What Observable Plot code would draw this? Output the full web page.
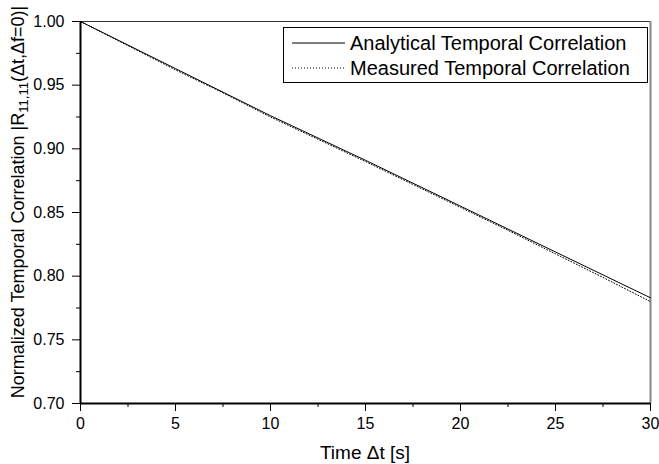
<!DOCTYPE html>
<html>
<head>
<meta charset="utf-8">
<script src="https://cdn.jsdelivr.net/npm/d3@7"></script>
<script src="https://cdn.jsdelivr.net/npm/@observablehq/plot@0.6"></script>
<style>
  html, body { margin: 0; padding: 0; background: #fff; }
  svg { font-family: "Liberation Sans", Arial, sans-serif; }
</style>
</head>
<body>
<div id="chart"></div>
<script>
// Data
const timeS = [0, 2.5, 5, 7.5, 10, 12.5, 15, 17.5, 20, 22.5, 25, 27.5, 30];
const analytical = [1.000, 0.9815, 0.963, 0.9445, 0.926, 0.9085, 0.891, 0.873, 0.855, 0.837, 0.819, 0.801, 0.783];
const measured   = [1.000, 0.981, 0.962, 0.944, 0.925, 0.9075, 0.890, 0.872, 0.854, 0.836, 0.8175, 0.799, 0.780];
const xMajor = [0, 5, 10, 15, 20, 25, 30];
const xMinor = [2.5, 7.5, 12.5, 17.5, 22.5, 27.5];
const yMajor = [0.70, 0.75, 0.80, 0.85, 0.90, 0.95, 1.00];
const yMinor = [0.725, 0.775, 0.825, 0.875, 0.925, 0.975];
const xDomain = [0, 30];
const yDomain = [0.70, 1.00];
const seriesNames = ["Analytical Temporal Correlation", "Measured Temporal Correlation"];

const anaData = timeS.map((t, i) => ({t, v: analytical[i]}));
const meaData = timeS.map((t, i) => ({t, v: measured[i]}));

const W = 659, H = 464;
const chart = Plot.plot({
  width: W, height: H,
  marginLeft: 80, marginRight: 9, marginTop: 21, marginBottom: 61,
  style: {fontFamily: '"Liberation Sans", Arial, sans-serif', fontSize: "16px", color: "#000", background: "#fff"},
  x: {domain: xDomain},
  y: {domain: yDomain},
  marks: [
    Plot.axisX({ticks: xMajor, tickSize: 8, tickPadding: 6, tickFormat: d => String(d), label: null, fontSize: 16}),
    Plot.axisX({ticks: xMinor, tickSize: 4, tickFormat: () => "", label: null}),
    Plot.axisY({ticks: yMajor, tickSize: 8, tickPadding: 8, tickFormat: d3.format(".2f"), label: null, fontSize: 16}),
    Plot.axisY({ticks: yMinor, tickSize: 4, tickFormat: () => "", label: null}),
    Plot.ruleY([yDomain[1]], {stroke: "#333", strokeWidth: 1}),
    Plot.ruleX([xDomain[1]], {stroke: "#888", strokeWidth: 2}),
    Plot.line(meaData, {x: "t", y: "v", stroke: "#000", strokeWidth: 1, strokeDasharray: "1,2"}),
    Plot.line(anaData, {x: "t", y: "v", stroke: "#000", strokeWidth: 1}),
    Plot.ruleY([yDomain[0]], {stroke: "#000", strokeWidth: 2}),
    Plot.ruleX([xDomain[0]], {stroke: "#000", strokeWidth: 2})
  ]
});
document.getElementById("chart").appendChild(chart);

const svg = d3.select(chart);

// X title
svg.append("text")
  .attr("x", 365).attr("y", 459)
  .attr("text-anchor", "middle")
  .attr("font-size", 19)
  .attr("fill", "#000")
  .text("Time \u0394t [s]");

// Y title with subscript
const yt = svg.append("text")
  .attr("transform", "translate(24,202) rotate(-90)")
  .attr("text-anchor", "middle")
  .attr("font-size", 18)
  .attr("fill", "#000");
yt.append("tspan").text("Normalized Temporal Correlation |R");
yt.append("tspan").attr("font-size", 13).attr("dy", 4).text("11,11");
yt.append("tspan").attr("dy", -4).text("(\u0394t,\u0394f=0)|");

// Legend
const lg = svg.append("g").attr("text-anchor", "start");
lg.append("rect").attr("x", 283.5).attr("y", 27.5).attr("width", 364).attr("height", 55)
  .attr("fill", "#fff").attr("stroke", "#000").attr("stroke-width", 1);
const rows = [{name: seriesNames[0], dash: null, y: 43}, {name: seriesNames[1], dash: "1,2", y: 68}];
rows.forEach(r => {
  const l = lg.append("line").attr("x1", 292).attr("x2", 345).attr("y1", r.y).attr("y2", r.y)
    .attr("stroke", "#000").attr("stroke-width", 1);
  if (r.dash) l.attr("stroke-dasharray", r.dash);
  lg.append("text").attr("x", 350).attr("y", r.y).attr("dy", "0.35em")
    .attr("text-anchor", "start")
    .attr("font-size", 20).attr("fill", "#000").text(r.name);
});
</script>
</body>
</html>
